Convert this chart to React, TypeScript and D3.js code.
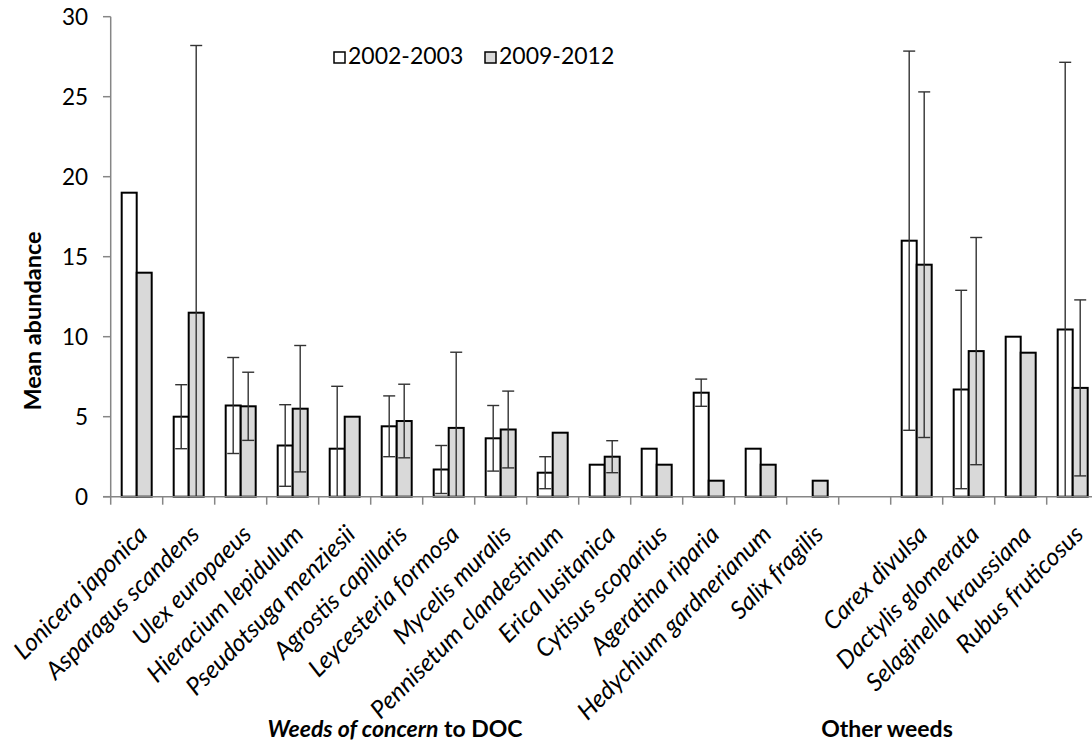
import React from "react";
import * as d3 from "d3";

// weeds, in chart order; the empty entry is the gap between the two groups
const categories = [
  "Lonicera japonica",
  "Asparagus scandens",
  "Ulex europaeus",
  "Hieracium lepidulum",
  "Pseudotsuga menziesii",
  "Agrostis capillaris",
  "Leycesteria formosa",
  "Mycelis muralis",
  "Pennisetum clandestinum",
  "Erica lusitanica",
  "Cytisus scoparius",
  "Ageratina riparia",
  "Hedychium gardnerianum",
  "Salix fragilis",
  "",
  "Carex divulsa",
  "Dactylis glomerata",
  "Selaginella kraussiana",
  "Rubus fruticosus",
];

const series = ["2002-2003", "2009-2012"];

const mean2002 = [19, 5, 5.7, 3.2, 3, 4.4, 1.7, 3.65, 1.5, 2, 3, 6.5, 3, 0, null, 16, 6.7, 10, 10.45];
const err2002 = [null, 2, 3, 2.55, 3.9, 1.9, 1.5, 2.05, 1, null, null, 0.85, null, null, null, 11.85, 6.2, null, 16.7];
const mean2009 = [14, 11.5, 5.65, 5.5, 5, 4.73, 4.3, 4.2, 4, 2.5, 2, 1, 2, 1, null, 14.5, 9.1, 9, 6.8];
const err2009 = [null, 16.7, 2.13, 3.95, null, 2.3, 4.73, 2.4, null, 1, null, null, null, null, null, 10.8, 7.1, null, 5.5];

const yTicks = [0, 5, 10, 15, 20, 25, 30];

const width = 1092;
const height = 746;
const font = "Lato, 'Open Sans', sans-serif";
const fills = ["#ffffff", "#d9d9d9"];
const axisColor = "#868686";

const App = () => {
  const x = d3
    .scaleBand()
    .domain(categories.map((c, i) => i + ":" + c))
    .range([110.7, 110.7 + 52 * categories.length])
    .padding(0);

  const xs = d3.scaleBand().domain(series).range([0, x.bandwidth()]).paddingOuter(0.733).paddingInner(0);

  const y = d3.scaleLinear().domain([0, 30]).range([496.7, 16.7]);

  const rows = categories.map((c, i) => ({
    key: i + ":" + c,
    name: c,
    vals: [
      { s: series[0], v: mean2002[i], e: err2002[i] },
      { s: series[1], v: mean2009[i], e: err2009[i] },
    ],
  }));

  return (
    <svg
      width={width}
      height={height}
      style={{ position: "absolute", left: 0, top: 0, fontFamily: font }}
    >
      <rect width={width} height={height} fill="#fff" />

      {/* bars */}
      {rows.map((r) =>
        r.vals.map((d, j) =>
          d.v === null || d.v === 0 ? null : (
            <rect
              key={r.key + d.s}
              x={x(r.key)! + xs(d.s)!}
              y={y(d.v)}
              width={xs.bandwidth()}
              height={y(0) - y(d.v)}
              fill={fills[j]}
              stroke="#000"
              strokeWidth={2}
            />
          )
        )
      )}

      {/* error bars */}
      {rows.map((r) =>
        r.vals.map((d) => {
          if (d.v === null || d.e === null) return null;
          const cx = x(r.key)! + xs(d.s)! + xs.bandwidth() / 2;
          const lo = d.v - d.e;
          const hi = d.v + d.e;
          return (
            <g key={r.key + d.s + "err"} stroke="#333" strokeWidth={1.4}>
              <line x1={cx} x2={cx} y1={y(Math.max(0, lo))} y2={y(hi)} />
              <line x1={cx - 6} x2={cx + 6} y1={y(hi)} y2={y(hi)} />
              {lo >= 0 && <line x1={cx - 6} x2={cx + 6} y1={y(lo)} y2={y(lo)} />}
            </g>
          );
        })
      )}

      {/* y axis */}
      <line x1={110.7} x2={110.7} y1={y(30)} y2={y(0)} stroke={axisColor} strokeWidth={1.5} />
      {yTicks.map((t) => (
        <g key={t}>
          <line x1={103} x2={110.7} y1={y(t)} y2={y(t)} stroke={axisColor} strokeWidth={1.5} />
          <text x={88} y={y(t)} dy="0.36em" textAnchor="end" fontSize={22.5} fill="#000">
            {t}
          </text>
        </g>
      ))}
      <text
        transform={`translate(33,321) rotate(-90)`}
        textAnchor="middle"
        dy="0.36em"
        fontSize={23.5}
        fontWeight="bold"
      >
        Mean abundance
      </text>

      {/* x axis */}
      <line x1={103} x2={x.range()[1]} y1={y(0)} y2={y(0)} stroke={axisColor} strokeWidth={1.5} />
      {d3.range(categories.length + 1).map((k) => {
        const px = x.range()[0] + x.step() * k;
        return <line key={k} x1={px} x2={px} y1={y(0)} y2={y(0) + 8} stroke={axisColor} strokeWidth={1.5} />;
      })}
      {rows.map((r) => {
        const cx = x(r.key)! + x.bandwidth() / 2;
        return (
          <text
            key={r.key + "lab"}
            transform={`translate(${cx},${y(0) + 27}) rotate(-45)`}
            textAnchor="end"
            dy="0.7em"
            fontSize={24.5}
            fontStyle="italic"
          >
            {r.name}
          </text>
        );
      })}

      {/* group labels */}
      <text x={395} y={737} textAnchor="middle" fontSize={23} fontWeight="bold">
        <tspan fontStyle="italic">Weeds of concern</tspan> to DOC
      </text>
      <text x={887} y={737} textAnchor="middle" fontSize={23} fontWeight="bold">
        Other weeds
      </text>

      {/* legend */}
      {series.map((s, i) => {
        const lx = [334, 485][i];
        return (
          <g key={s}>
            <rect x={lx} y={52} width={11} height={11} fill={fills[i]} stroke="#000" strokeWidth={1.5} />
            <text x={lx + 14} y={64} fontSize={23}>
              {s}
            </text>
          </g>
        );
      })}
    </svg>
  );
};

export default App;
